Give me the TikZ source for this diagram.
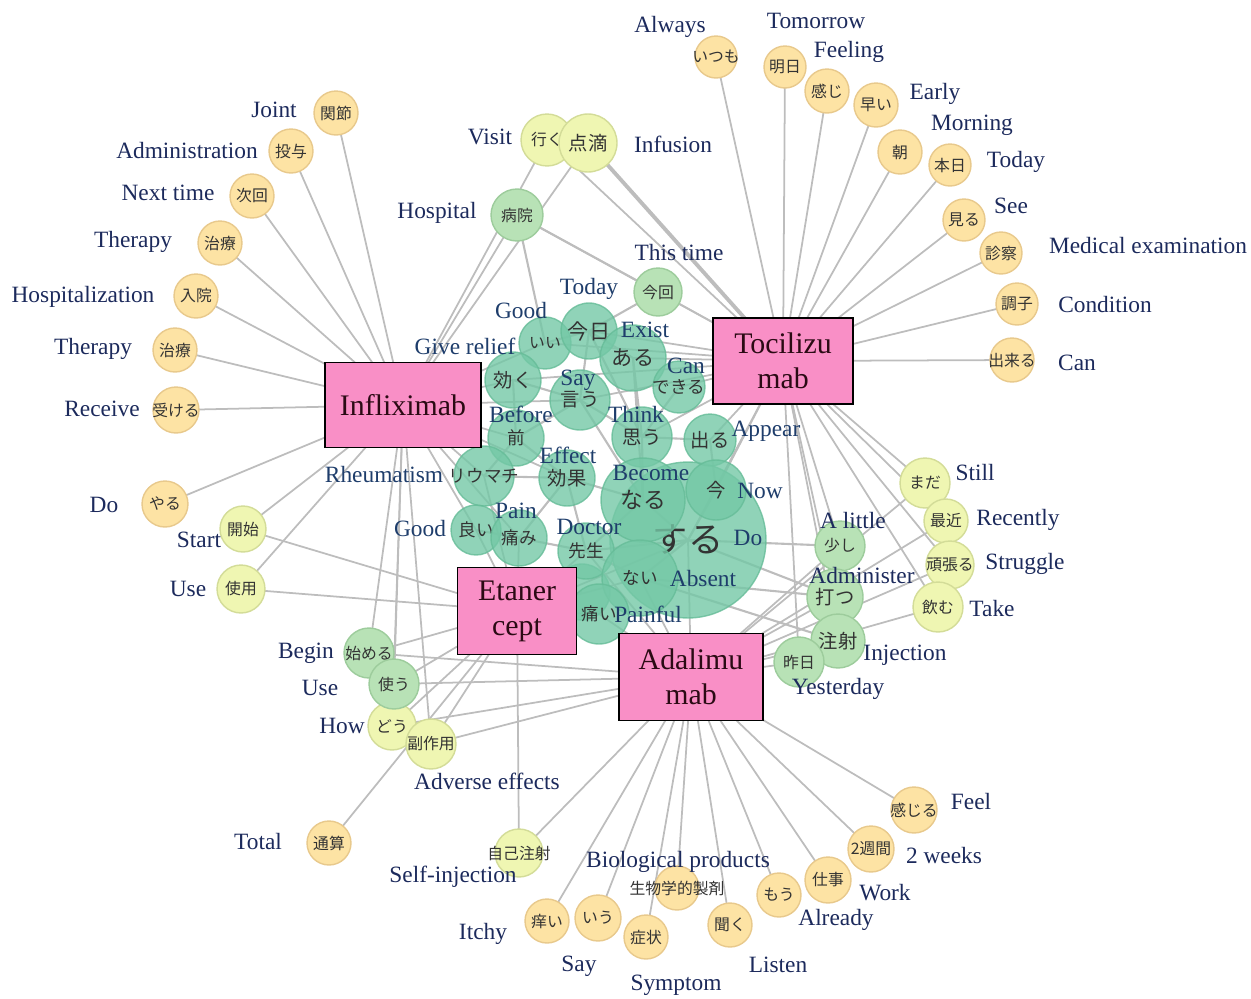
\documentclass[tikz,border=0pt]{standalone}
\usepackage{fontspec}
\setmainfont{Liberation Serif}
\newfontfamily\jp{Noto Sans CJK JP}
\usepackage{tikz}
\usetikzlibrary{backgrounds}
\newcommand{\jw}[1]{\makebox[0pt]{\jp #1}}
\definecolor{boxpink}{HTML}{F98FC6}
\definecolor{boxtext}{HTML}{2B0A14}
\definecolor{orfill}{HTML}{FDE3A4}
\definecolor{ordraw}{HTML}{E8C98C}
\definecolor{ygfill}{HTML}{EFF6B2}
\definecolor{ygdraw}{HTML}{D3DC98}
\definecolor{lgfill}{HTML}{B8E2B6}
\definecolor{lgdraw}{HTML}{9DCC9C}
\definecolor{tlfill}{HTML}{74C8A6}
\definecolor{tldraw}{HTML}{66BC98}
\definecolor{edgegray}{HTML}{BDBDBD}
\definecolor{navy}{HTML}{1C2A5C}
\definecolor{tlnavy}{HTML}{1E3D6B}

\begin{document}
\begin{tikzpicture}[x=0.02cm, y=-0.02cm,
    rad/.style={minimum size=#1*0.04cm},
    wd/.style={circle, inner sep=0pt, line width=0.8pt, text=black!80, font=\fontsize{9}{9}\selectfont},
    orw/.style={wd, fill=orfill, draw=ordraw},
    ygw/.style={wd, fill=ygfill, draw=ygdraw},
    lgw/.style={wd, fill=lgfill, draw=lgdraw},
    tlw/.style={wd, fill=tlfill, draw=tldraw, fill opacity=0.8, draw opacity=0.8, text opacity=1, font=\fontsize{11}{11}\selectfont},
    drug/.style={draw=black, line width=0.8pt, fill=boxpink, text=boxtext, align=center, inner sep=0pt, font=\fontsize{17}{20}\selectfont},
    lab/.style={inner sep=0pt, text=navy, font=\fontsize{13.3}{15}\selectfont},
    tlab/.style={lab, text=tlnavy},
    link/.style={draw=edgegray, line width=1pt}]
  \useasboundingbox (0,0) rectangle (1251,998);

  \node (itsumo) at (716,57) [orw, rad=21] {\jw{いつも}};
  \node (ashita) at (785,67) [orw, rad=21] {\jw{明日}};
  \node (kanji) at (827,91) [orw, rad=22] {\jw{感じ}};
  \node (hayai) at (876,105) [orw, rad=22] {\jw{早い}};
  \node (asa) at (900,152) [orw, rad=22] {\jw{朝}};
  \node (honjitsu) at (950,165) [orw, rad=21] {\jw{本日}};
  \node (miru) at (964,220) [orw, rad=21] {\jw{見る}};
  \node (shinsatsu) at (1001,253) [orw, rad=21] {\jw{診察}};
  \node (choushi) at (1017,304) [orw, rad=21] {\jw{調子}};
  \node (dekiru) at (1012,360) [orw, rad=22] {\jw{出来る}};
  \node (kansetsu) at (336,113) [orw, rad=22] {\jw{関節}};
  \node (touyo) at (291,151) [orw, rad=22] {\jw{投与}};
  \node (jikai) at (252,196) [orw, rad=22] {\jw{次回}};
  \node (chiryou) at (220,243) [orw, rad=22] {\jw{治療}};
  \node (nyuuin) at (196,296) [orw, rad=22] {\jw{入院}};
  \node (chiryou2) at (175,350) [orw, rad=22] {\jw{治療}};
  \node (ukeru) at (176,410) [orw, rad=23] {\jw{受ける}};
  \node (yaru) at (165,504) [orw, rad=23] {\jw{やる}};
  \node (tsuusan) at (329,843) [orw, rad=22] {\jw{通算}};
  \node (kayui) at (547,921) [orw, rad=22] {\jw{痒い}};
  \node (iu) at (598,918) [orw, rad=23] {\jw{いう}};
  \node (seibutsu) at (677,888) [orw, rad=22] {\jw{生物学的製剤}};
  \node (shoujou) at (646,937) [orw, rad=22] {\jw{症状}};
  \node (kiku) at (730,925) [orw, rad=22] {\jw{聞く}};
  \node (mou) at (779,895) [orw, rad=22] {\jw{もう}};
  \node (shigoto) at (828,880) [orw, rad=23] {\jw{仕事}};
  \node (nishuukan) at (871,849) [orw, rad=23] {\jw{2週間}};
  \node (kanjiru) at (914,810) [orw, rad=23] {\jw{感じる}};

  \node (iku) at (547,140) [ygw, rad=26] {\jw{行く}};
  \node (tenteki) at (588,143) [ygw, rad=29, font=\fontsize{11}{11}\selectfont] {\jw{点滴}};
  \node (mada) at (925,483) [ygw, rad=25] {\jw{まだ}};
  \node (saikin) at (946,521) [ygw, rad=22] {\jw{最近}};
  \node (ganbaru) at (950,565) [ygw, rad=24] {\jw{頑張る}};
  \node (nomu) at (938,607) [ygw, rad=25] {\jw{飲む}};
  \node (kaishi) at (243,529) [ygw, rad=23] {\jw{開始}};
  \node (shiyou) at (241,589) [ygw, rad=24] {\jw{使用}};
  \node (dou) at (392,726) [ygw, rad=24] {\jw{どう}};
  \node (fukusayou) at (431,744) [ygw, rad=25] {\jw{副作用}};
  \node (jikochusha) at (519,853) [ygw, rad=24] {\jw{自己注射}};

  \node (byouin) at (517,215) [lgw, rad=26] {\jw{病院}};
  \node (konkai) at (658,292) [lgw, rad=24] {\jw{今回}};
  \node (hajimeru) at (369,653) [lgw, rad=25] {\jw{始める}};
  \node (tsukau) at (394,684) [lgw, rad=25] {\jw{使う}};
  \node (sukoshi) at (840,546) [lgw, rad=25] {\jw{少し}};
  \node (utsu) at (835,597) [lgw, rad=28, font=\fontsize{11}{11}\selectfont] {\jw{打つ}};
  \node (chusha) at (838,641) [lgw, rad=27, font=\fontsize{11}{11}\selectfont] {\jw{注射}};
  \node (kinou) at (799,662) [lgw, rad=25] {\jw{昨日}};

  \node (hidden) at (582,592) [tlw, rad=28] {};
  \node (suru) at (688,540) [tlw, rad=78, font=\fontsize{20}{20}\selectfont] {\jw{する}};
  \node (ii) at (545,343) [tlw, rad=26, font=\fontsize{9}{9}\selectfont] {\jw{いい}};
  \node (kyou) at (589,331) [tlw, rad=28, font=\fontsize{12}{12}\selectfont] {\jw{今日}};
  \node (aru) at (633,358) [tlw, rad=33, font=\fontsize{12}{12}\selectfont] {\jw{ある}};
  \node (dekiru2) at (679,387) [tlw, rad=26, font=\fontsize{10}{10}\selectfont] {\jw{できる}};
  \node (kiku2) at (513,380) [tlw, rad=28] {\jw{効く}};
  \node (iu2) at (580,400) [tlw, rad=30] {\jw{言う}};
  \node (mae) at (516,438) [tlw, rad=28, font=\fontsize{10}{10}\selectfont] {\jw{前}};
  \node (omou) at (642,437) [tlw, rad=30] {\jw{思う}};
  \node (deru) at (710,440) [tlw, rad=26] {\jw{出る}};
  \node (riumachi) at (484,476) [tlw, rad=30, font=\fontsize{10}{10}\selectfont] {\jw{リウマチ}};
  \node (kouka) at (567,478) [tlw, rad=28] {\jw{効果}};
  \node (naru) at (643,500) [tlw, rad=42, font=\fontsize{13}{13}\selectfont] {\jw{なる}};
  \node (ima) at (716,490) [tlw, rad=30] {\jw{今}};
  \node (yoi) at (476,530) [tlw, rad=25, font=\fontsize{10}{10}\selectfont] {\jw{良い}};
  \node (itami) at (519,538) [tlw, rad=28, font=\fontsize{10}{10}\selectfont] {\jw{痛み}};
  \node (sensei) at (586,551) [tlw, rad=28, font=\fontsize{10}{10}\selectfont] {\jw{先生}};
  \node (nai) at (640,578) [tlw, rad=38, font=\fontsize{10}{10}\selectfont] {\jw{ない}};
  \node (itai) at (599,614) [tlw, rad=30, font=\fontsize{10}{10}\selectfont] {\jw{痛い}};

  \node (lAlways) at (670,27) [lab] {Always};
  \node (lTomorrow) at (816,21) [lab] {Tomorrow};
  \node (lFeeling) at (849,52) [lab] {Feeling};
  \node (lEarly) at (935,94) [lab] {Early};
  \node (lMorning) at (972,125) [lab] {Morning};
  \node (lToday) at (1016,162) [lab] {Today};
  \node (lSee) at (1011,206) [lab] {See};
  \node (lExam) at (1148,246) [lab] {Medical examination};
  \node (lCondition) at (1105,305) [lab] {Condition};
  \node (lCan) at (1077,363) [lab] {Can};
  \node (lJoint) at (274,110) [lab] {Joint};
  \node (lAdmin) at (187,151) [lab] {Administration};
  \node (lNext) at (168,193) [lab] {Next time};
  \node (lTherapy) at (133,242) [lab] {Therapy};
  \node (lHosp) at (83,297) [lab] {Hospitalization};
  \node (lTherapy2) at (93,349) [lab] {Therapy};
  \node (lReceive) at (102,409) [lab] {Receive};
  \node (lDo) at (104,505) [lab] {Do};
  \node (lStart) at (199,540) [lab] {Start};
  \node (lUse) at (188,589) [lab] {Use};
  \node (lVisit) at (490,137) [lab] {Visit};
  \node (lInfusion) at (673,144) [lab] {Infusion};
  \node (lHospital) at (437,213) [lab] {Hospital};
  \node (lThisTime) at (679,253) [lab] {This time};
  \node (lGood) at (521,311) [tlab] {Good};
  \node (lToday2) at (589,289) [tlab] {Today};
  \node (lExist) at (645,330) [tlab] {Exist};
  \node (lCan2) at (686,366) [tlab] {Can};
  \node (lRelief) at (465,346) [tlab] {Give relief};
  \node (lSay) at (578,380) [tlab] {Say};
  \node (lBefore) at (521,414) [tlab] {Before};
  \node (lThink) at (636,414) [tlab] {Think};
  \node (lAppear) at (766,431) [tlab] {Appear};
  \node (lRheum) at (384,474) [tlab] {Rheumatism};
  \node (lEffect) at (568,455) [tlab] {Effect};
  \node (lBecome) at (651,473) [tlab] {Become};
  \node (lNow) at (760,491) [tlab] {Now};
  \node (lDo2) at (748,538) [tlab] {Do};
  \node (lGood2) at (420,528) [tlab] {Good};
  \node (lPain) at (516,511) [tlab] {Pain};
  \node (lDoctor) at (589,527) [tlab] {Doctor};
  \node (lAbsent) at (703,578) [tlab] {Absent};
  \node (lPainful) at (648,614) [tlab] {Painful};
  \node (lLittle) at (853,520) [lab] {A little};
  \node (lAdminister) at (862,575) [lab] {Administer};
  \node (lInjection) at (905,655) [lab] {Injection};
  \node (lYesterday) at (838,689) [lab] {Yesterday};
  \node (lStill) at (975,472) [lab] {Still};
  \node (lRecently) at (1018,520) [lab] {Recently};
  \node (lStruggle) at (1025,564) [lab] {Struggle};
  \node (lTake) at (992,608) [lab] {Take};
  \node (lBegin) at (306,653) [lab] {Begin};
  \node (lUse2) at (320,688) [lab] {Use};
  \node (lHow) at (342,726) [lab] {How};
  \node (lAdverse) at (487,781) [lab] {Adverse effects};
  \node (lTotal) at (258,841) [lab] {Total};
  \node (lSelf) at (453,877) [lab] {Self-injection};
  \node (lBio) at (678,862) [lab] {Biological products};
  \node (lItchy) at (483,934) [lab] {Itchy};
  \node (lSay2) at (579,966) [lab] {Say};
  \node (lSymptom) at (676,985) [lab] {Symptom};
  \node (lListen) at (778,965) [lab] {Listen};
  \node (lAlready) at (836,920) [lab] {Already};
  \node (lWork) at (885,893) [lab] {Work};
  \node (lWeeks) at (944,855) [lab] {2 weeks};
  \node (lFeel) at (971,801) [lab] {Feel};

  \node (inf) at (403,405) [drug, minimum width=3.12cm, minimum height=1.7cm] {Infliximab};
  \node (toc) at (783,361) [drug, minimum width=2.8cm, minimum height=1.72cm] {Tocilizu\\mab};
  \node (eta) at (517,611) [drug, minimum width=2.38cm, minimum height=1.74cm] {Etaner\\cept};
  \node (ada) at (691,677) [drug, minimum width=2.88cm, minimum height=1.74cm] {Adalimu\\mab};

  \begin{scope}[on background layer]
    \foreach \w in {itsumo,ashita,kanji,hayai,asa,honjitsu,miru,shinsatsu,choushi,dekiru,iku,konkai,byouin,mada,saikin,ganbaru,nomu,sukoshi,utsu,chusha,kinou,aru,dekiru2,kyou,ii,omou,deru,ima,suru,kiku2,iu2}
      \draw[link] (toc.center) -- (\w.center);
    \draw[link, line width=2.2pt] (toc.center) -- (tenteki.center);
    \foreach \w in {kansetsu,touyo,jikai,chiryou,nyuuin,chiryou2,ukeru,yaru,kaishi,shiyou,byouin,iku,tenteki,hajimeru,tsukau,dou,fukusayou,riumachi,yoi,kiku2,mae,ii,iu2,kouka,itami}
      \draw[link] (inf.center) -- (\w.center);
    \foreach \w in {kaishi,shiyou,hajimeru,tsukau,dou,fukusayou,jikochusha,tsuusan,itami,sensei,itai,nai,suru,yoi,riumachi,hidden}
      \draw[link] (eta.center) -- (\w.center);
    \foreach \w in {jikochusha,kayui,iu,shoujou,seibutsu,kiku,mou,shigoto,nishuukan,kanjiru,kinou,chusha,utsu,sukoshi,nomu,ganbaru,saikin,mada,dou,fukusayou,tsukau,hajimeru,suru,nai,itai,sensei}
      \draw[link] (ada.center) -- (\w.center);
    \foreach \a/\b in {byouin/ii,byouin/konkai,konkai/kyou,suru/naru,suru/nai,suru/ima,naru/omou,omou/iu2,iu2/kyou,kiku2/mae,mae/kouka,kouka/naru,riumachi/kouka,itami/sensei,sensei/nai,aru/omou,dekiru2/omou,kouka/sensei,mae/iu2,ii/kyou,kyou/aru,kiku2/iu2,itami/kouka,yoi/itami,naru/sensei,omou/deru,deru/ima,suru/sensei,mae/riumachi,iu2/naru,kyou/omou,aru/naru,sukoshi/suru,utsu/suru,utsu/nai,chusha/nai}
      \draw[link, line width=1.2pt] (\a.center) -- (\b.center);
  \end{scope}
\end{tikzpicture}
\end{document}
